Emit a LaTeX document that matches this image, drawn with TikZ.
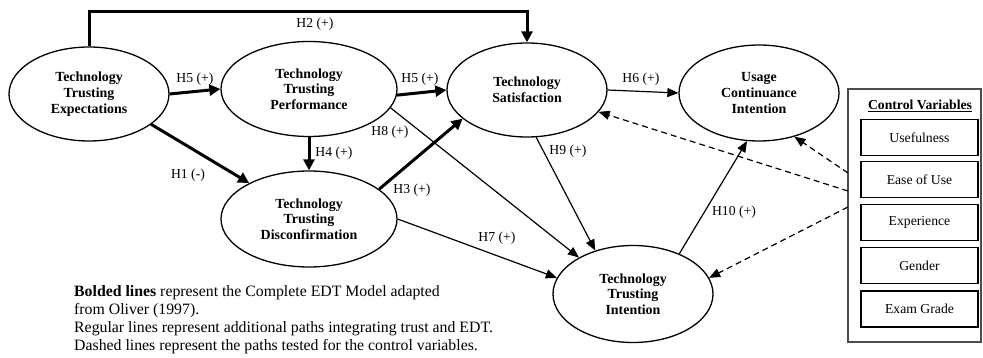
\documentclass[tikz,border=0pt]{standalone}
\usepackage{fontspec}
\setmainfont{Liberation Serif}
\usetikzlibrary{shapes.geometric,arrows.meta}
\begin{document}
\begin{tikzpicture}[x=1pt,y=-1pt,
  construct/.style={ellipse,draw,line width=1.3pt,inner sep=0pt,align=center,
    font=\fontsize{13.9}{15.7}\selectfont\bfseries},
  boldarrow/.style={line width=3pt,-{Triangle[length=11pt,width=11pt]}},
  thinarrow/.style={line width=1.2pt,-{Triangle[length=11pt,width=9pt]}},
  ctrlarrow/.style={line width=1.2pt,dash pattern=on 6pt off 4pt,-{Triangle[length=11pt,width=9pt]}},
  hlabel/.style={font=\fontsize{13.7}{15.7}\selectfont,inner sep=0pt},
  ctrlbox/.style={draw,line width=1.3pt,minimum width=117pt,minimum height=36pt,inner sep=0pt,
    font=\fontsize{13.7}{15.7}\selectfont}]
\useasboundingbox (0,0) rectangle (983,358);

\node[construct,minimum width=160pt,minimum height=94pt] (tte) at (89,94) {Technology\\Trusting\\Expectations};
\node[construct,minimum width=176pt,minimum height=95pt] (ttp) at (309,89) {Technology\\Trusting\\Performance};
\node[construct,minimum width=160pt,minimum height=94pt] (ts) at (527,90) {Technology\\Satisfaction};
\node[construct,minimum width=160pt,minimum height=96pt] (uci) at (759,93) {Usage\\Continuance\\Intention};
\node[construct,minimum width=176pt,minimum height=96pt] (ttd) at (309,219) {Technology\\Trusting\\Disconfirmation};
\node[construct,minimum width=160pt,minimum height=97pt] (tti) at (633,294) {Technology\\Trusting\\Intention};

\node[draw=black!70,line width=1.5pt,minimum width=133pt,minimum height=253pt,inner sep=0pt] (ctrl) at (914.5,215.5) {};
\node[hlabel,font=\fontsize{13.7}{15.7}\selectfont\bfseries] (ctrltitle) at (920,106) {\underline{Control Variables}};
\node[ctrlbox] (cv1) at (919.5,137.5) {Usefulness};
\node[ctrlbox] (cv2) at (919.5,179.5) {Ease of Use};
\node[ctrlbox] (cv3) at (919.5,222.5) {Experience};
\node[ctrlbox] (cv4) at (919.5,265.5) {Gender};
\node[ctrlbox] (cv5) at (919.5,309) {Exam Grade};

\coordinate (c1) at (848,173);
\coordinate (c2) at (848,191);
\coordinate (c3) at (848,207);

% bold paths
\draw[boldarrow] (tte.north) |- ([yshift=31pt]ts.north) -- (ts.north);
\draw[boldarrow] (tte.east) -- (ttp.west);
\draw[boldarrow] (ttp.-4) -- (ts.west);
\draw[boldarrow] (ttp.south) -- (ttd.north);
\draw[boldarrow] (tte.-26) -- (ttd.149);
\draw[boldarrow] (ttd.23) -- (ts.204);

% regular paths
\draw[thinarrow] (ts.east) -- (uci.west);
\draw[thinarrow] (ttp.-13) -- (tti.146.5);
\draw[thinarrow] (ts.-79) -- (tti.131);
\draw[thinarrow] (ttd.east) -- (tti.168);
\draw[thinarrow] (tti.41) -- (uci.256);

% control paths
\draw[ctrlarrow] (c1) -- (uci.-51);
\draw[ctrlarrow] (c2) -- (ts.-17);
\draw[ctrlarrow] (c3) -- (tti.12.5);

% labels
\node[hlabel] (lh2) at (315,24) {H2 (+)};
\node[hlabel] (lh5a) at (195,79) {H5 (+)};
\node[hlabel] (lh5b) at (420,79) {H5 (+)};
\node[hlabel] (lh8) at (390,132) {H8 (+)};
\node[hlabel] (lh4) at (334,153) {H4 (+)};
\node[hlabel] (lh1) at (188,175) {H1 (-)};
\node[hlabel] (lh3) at (412,190) {H3 (+)};
\node[hlabel] (lh7) at (497,238) {H7 (+)};
\node[hlabel] (lh9) at (568,151) {H9 (+)};
\node[hlabel] (lh6) at (641,79) {H6 (+)};
\node[hlabel] (lh10) at (734,212) {H10 (+)};

\node[anchor=north west,inner sep=0pt,align=left,font=\fontsize{15.8}{18}\selectfont] (legend) at (74,285)
 {\textbf{Bolded lines} represent the Complete EDT Model adapted\\
  from Oliver (1997).\\
  Regular lines represent additional paths integrating trust and EDT.\\
  Dashed lines represent the paths tested for the control variables.};
\end{tikzpicture}
\end{document}
